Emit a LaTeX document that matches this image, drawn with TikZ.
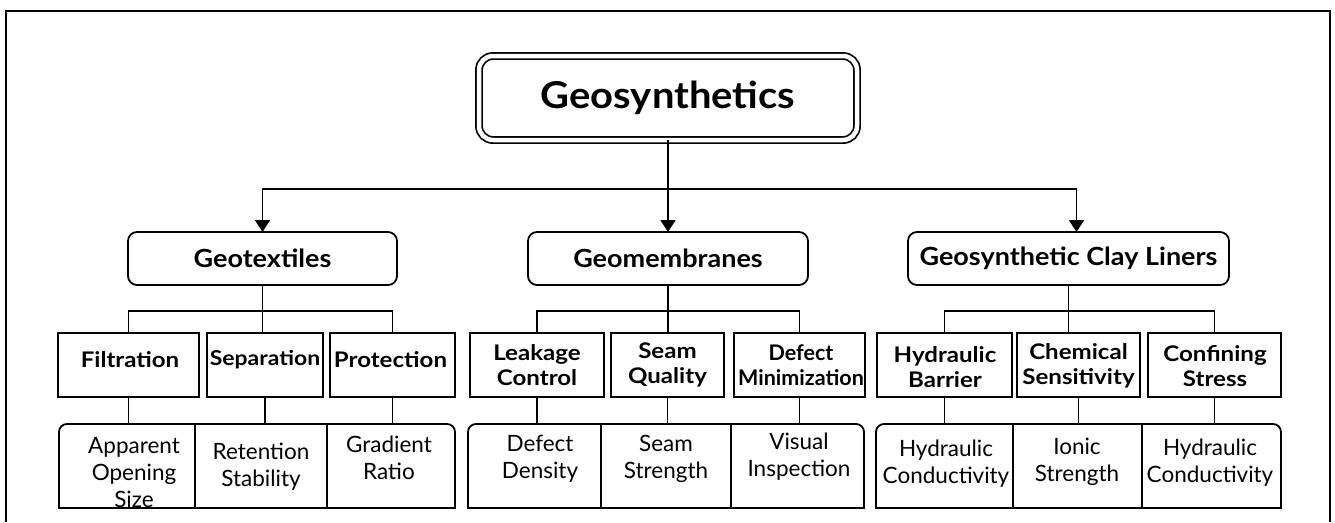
\documentclass[tikz,border=0pt]{standalone}
\usepackage{fontspec}
\setmainfont{Lato}
\newfontfamily\rootfont{Lato}[FakeStretch=1.08]
\newfontfamily\catfont{Lato}[FakeStretch=1.08]
\newfontfamily\propfont{Lato}[FakeStretch=1.12]
\usetikzlibrary{arrows.meta}

\begin{document}
\begin{tikzpicture}[x=1pt,y=-1pt,
  line width=1.8pt,
  every node/.style={inner sep=0pt, outer sep=0pt},
  rootbox/.style={draw, rounded corners=14pt, double, double distance=4.5pt, line width=1.7pt,
    minimum width=378pt, minimum height=84pt,
    font=\rootfont\fontsize{37}{44}\selectfont\bfseries},
  catbox/.style={draw, rounded corners=9pt, minimum height=53pt,
    font=\catfont\fontsize{25}{30}\selectfont\bfseries},
  propbox/.style={draw, minimum height=64pt},
  boldlbl/.style={align=center, font=\propfont\fontsize{21.5}{25}\selectfont\bfseries},
  medlbl/.style={align=center, font=\propfont\fontsize{20.5}{24}\selectfont\bfseries},
  cell/.style={minimum height=84pt},
  celltext/.style={align=center, font=\fontsize{22.5}{27}\selectfont},
  arr/.style={-{Triangle[width=15pt,length=12pt]}}
]
\useasboundingbox (0,0) rectangle (1335,522);

% open frame (runs off the lower edge)
\draw[line width=2.4pt] (6,522) -- (6,11) -- (1330,11) -- (1330,522);

% root and main categories
\node[rootbox] (root) at (668,98) {Geosynthetics};
\node[catbox, minimum width=269pt] (gt)  at (262.5,258.5) {Geotextiles};
\node[catbox, minimum width=280pt] (gm)  at (668,258.5)   {Geomembranes};
\node[catbox, minimum width=321pt] (gcl) at (1068.5,258.5) {Geosynthetic Clay Liners};

\draw[arr] (root.south) -- (gm.north);
\draw[arr] (root.south) -- ++(0,49) -| (gt.north);
\draw[arr] (root.south) -- ++(0,49) -| ([xshift=8pt]gcl.north);

% functions
\node[propbox, minimum width=141pt] (filt)  at (128.5,365) {};
\node[propbox, minimum width=116pt] (sep)   at (265,365)   {};
\node[propbox, minimum width=125pt] (prot)  at (392.5,365) {};
\node[propbox, minimum width=134pt] (leak)  at (537,365)   {};
\node[propbox, minimum width=113pt] (seamq) at (667.5,365) {};
\node[propbox, minimum width=131pt] (defm)  at (799.5,365) {};
\node[propbox, minimum width=135pt] (hyb)   at (944.5,365) {};
\node[propbox, minimum width=123pt] (chem)  at (1078.5,365) {};
\node[propbox, minimum width=133pt] (conf)  at (1214.5,365) {};

\node[boldlbl] (tfilt)  at (130,360)   {Filtration};
\node[medlbl]  (tsep)   at (265,360)   {Separation};
\node[boldlbl] (tprot)  at (390.5,360) {Protection};
\node[boldlbl] (tleak)  at (537,365)   {Leakage\\Control};
\node[boldlbl] (tseamq) at (667.5,365) {Seam\\Quality};
\node[boldlbl, font=\fontsize{21.5}{25}\selectfont\bfseries]
               (tdefm)  at (801,365)   {Defect\\Minimization};
\node[boldlbl] (thyb)   at (945,367)   {Hydraulic\\Barrier};
\node[boldlbl] (tchem)  at (1078.5,366) {Chemical\\Sensitivity};
\node[boldlbl] (tconf)  at (1215,366)  {Confining\\Stress};

% category to function connectors
\foreach \c/\l/\m/\r in {gt/filt/sep/prot, gm/leak/seamq/defm, gcl/hyb/chem/conf}{
  \draw (\c.south) -- ++(0,26) -| (\l.north);
  \draw (\c.south) -- ++(0,26) -| (\r.north);
  \draw (\c.south) -- (\c.south |- \m.north);
}

% measured parameters
\node[cell, minimum width=136pt] (aos)  at (127,466)    {};
\node[cell, minimum width=132pt] (ret)  at (261,466)    {};
\node[cell, minimum width=128pt] (grad) at (391,466)    {};
\node[cell, minimum width=133pt] (dd)   at (534.5,466)  {};
\node[cell, minimum width=130pt] (ss)   at (666,466)    {};
\node[cell, minimum width=133pt] (vi)   at (797.5,466)  {};
\node[cell, minimum width=137pt] (hc1)  at (944.5,466)  {};
\node[cell, minimum width=129pt] (ion)  at (1077.5,466) {};
\node[cell, minimum width=139pt] (hc2)  at (1211.5,466) {};

\node[celltext] (taos)  at (134,473)    {Apparent\\Opening\\Size};
\node[celltext] (tret)  at (261,467)    {Retention\\Stability};
\node[celltext] (tgrad) at (389,457.5)  {Gradient\\Ratio};
\node[celltext] (tdd)   at (540,458.5)  {Defect\\Density};
\node[celltext] (tss)   at (666,458.5)  {Seam\\Strength};
\node[celltext] (tvi)   at (799,456.5)  {Visual\\Inspection};
\node[celltext] (thc1)  at (946,463.5)  {Hydraulic\\Conductivity};
\node[celltext] (tion)  at (1077,461.5) {Ionic\\Strength};
\node[celltext] (thc2)  at (1210,462.5) {Hydraulic\\Conductivity};

% grouped cells: rounded top, square bottom, with dividers
\foreach \a/\b/\c in {aos/ret/grad, dd/ss/vi, hc1/ion/hc2}{
  \draw (\a.south west) -- ([yshift=-8pt]\a.north west)
        arc[start angle=180, end angle=90, radius=8pt]
        -- ([xshift=-8pt]\c.north east)
        arc[start angle=90, end angle=0, radius=8pt]
        -- (\c.south east) -- cycle;
  \draw (\a.north east) -- (\a.south east);
  \draw (\b.north east) -- (\b.south east);
}

% function to parameter connectors
\foreach \u/\d in {filt/aos, sep/ret, prot/grad, leak/dd, seamq/ss, defm/vi, hyb/hc1, chem/ion, conf/hc2}{
  \draw (\u.south) -- (\u.south |- \d.north);
}
\end{tikzpicture}
\end{document}
